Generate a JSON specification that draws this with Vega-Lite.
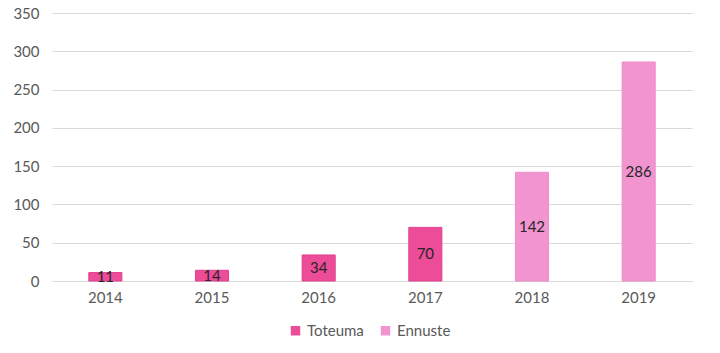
{
  "$schema": "https://vega.github.io/schema/vega-lite/v6.json",
  "autosize": {"type": "none"},
  "width": 640,
  "height": 268,
  "padding": {"left": 52, "top": 13, "right": 28, "bottom": 72},
  "background": "white",
  "config": {
    "font": "Lato",
    "view": {"stroke": null},
    "axis": {"labelFont": "Lato", "labelFontSize": 15, "labelColor": "#595959", "labelOverlap": false}
  },
  "data": {
    "values": [
      {"year": "2014", "value": 11, "type": "Toteuma"},
      {"year": "2015", "value": 14, "type": "Toteuma"},
      {"year": "2016", "value": 34, "type": "Toteuma"},
      {"year": "2017", "value": 70, "type": "Toteuma"},
      {"year": "2018", "value": 142, "type": "Ennuste"},
      {"year": "2019", "value": 286, "type": "Ennuste"}
    ]
  },
  "transform": [{"calculate": "datum.value / 2", "as": "mid"}],
  "encoding": {
    "x": {
      "field": "year",
      "type": "nominal",
      "title": null,
      "scale": {"paddingInner": 0.69, "paddingOuter": 0.345},
      "axis": {"labelAngle": 0, "ticks": false, "domain": true, "domainColor": "#d9d9d9", "labelPadding": 9}
    }
  },
  "layer": [
    {
      "mark": {"type": "bar", "strokeWidth": 1},
      "encoding": {
        "y": {
          "field": "value",
          "type": "quantitative",
          "title": null,
          "scale": {"domain": [0, 350], "nice": false},
          "axis": {"values": [0, 50, 100, 150, 200, 250, 300, 350], "ticks": false, "domain": false, "gridColor": "#d9d9d9", "labelPadding": 13, "labelOverlap": false}
        },
        "color": {
          "field": "type",
          "type": "nominal",
          "title": null,
          "scale": {"domain": ["Toteuma", "Ennuste"], "range": ["#ED4C98", "#F194D0"]},
          "legend": {
            "orient": "none",
            "legendX": 236,
            "legendY": 310,
            "direction": "horizontal",
            "symbolType": "square",
            "symbolSize": 90,
            "symbolStrokeWidth": 0,
            "labelFontSize": 15,
            "labelFont": "Lato",
            "labelColor": "#595959",
            "columnPadding": 14,
            "labelOffset": 4
          }
        },
        "stroke": {
          "field": "type",
          "type": "nominal",
          "scale": {"domain": ["Toteuma", "Ennuste"], "range": ["#E0408C", "#EE8CCA"]},
          "legend": null
        }
      }
    },
    {
      "mark": {"type": "text", "fontSize": 15, "color": "#262626", "baseline": "middle", "font": "Lato"},
      "encoding": {
        "y": {"field": "mid", "type": "quantitative", "scale": {"domain": [0, 350], "nice": false}, "axis": {"values": [0, 50, 100, 150, 200, 250, 300, 350], "ticks": false, "domain": false, "gridColor": "#d9d9d9", "labelPadding": 13, "labelOverlap": false}},
        "text": {"field": "value", "type": "quantitative"}
      }
    }
  ]
}
